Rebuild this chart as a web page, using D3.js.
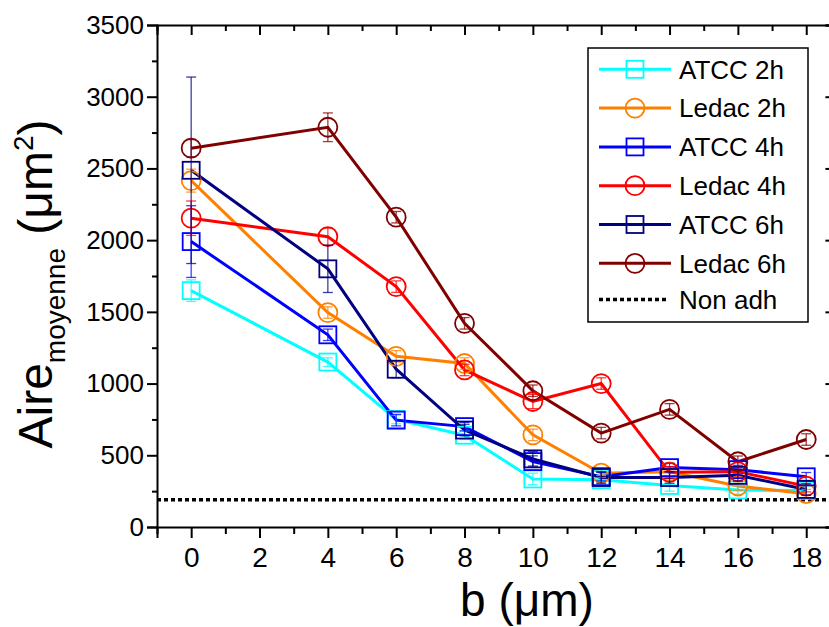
<!DOCTYPE html>
<html><head><meta charset="utf-8">
<script src="https://cdn.jsdelivr.net/npm/d3@7"></script>
<style>body{margin:0;background:#fff}svg{display:block}text{font-family:"Liberation Sans",Arial,sans-serif}</style>
</head><body><svg id="c" width="829" height="627"></svg>
<script>
const bValues = [0, 4, 6, 8, 10, 12, 14, 16, 18];
const seriesNames = ["ATCC 2h", "Ledac 2h", "ATCC 4h", "Ledac 4h", "ATCC 6h", "Ledac 6h"];
const seriesColors = ["#00FFFF", "#FF8000", "#0000FF", "#FF0000", "#000080", "#800000"];
const seriesShapes = ["square", "circle", "square", "circle", "square", "circle"];
const atcc2h  = [1648, 1150, 750, 640, 335, 330, 290, 258, 255];
const ledac2h = [2415, 1495, 1190, 1140, 642, 375, 385, 286, 232];
const atcc4h  = [1990, 1340, 745, 700, 456, 351, 414, 400, 350];
const ledac4h = [2153, 2024, 1676, 1095, 875, 1000, 381, 386, 285];
const atcc6h  = [2487, 1800, 1100, 676, 475, 345, 345, 360, 262];
const ledac6h = [2641, 2787, 2160, 1420, 950, 655, 820, 455, 610];
const errAtcc2h  = [75, 30, 30, 30, 40, 30, 40, 30, 30];
const errLedac2h = [80, 40, 40, 40, 40, 30, 30, 30, 30];
const errAtcc4h  = [250, 40, 40, 30, 40, 30, 30, 30, 30];
const errLedac4h = [120, 60, 40, 40, 50, 40, 40, 40, 40];
const errAtcc6h  = [650, 165, 60, 40, 50, 40, 40, 40, 40];
const errLedac6h = [60, 100, 40, 40, 40, 40, 40, 40, 40];
const nonAdh = 190;
const xTicks = [0, 2, 4, 6, 8, 10, 12, 14, 16, 18];
const yTicks = [0, 500, 1000, 1500, 2000, 2500, 3000, 3500];

const values = [atcc2h, ledac2h, atcc4h, ledac4h, atcc6h, ledac6h];
const errors = [errAtcc2h, errLedac2h, errAtcc4h, errLedac4h, errAtcc6h, errLedac6h];

const svg = d3.select("#c");
const L = 157, R = 840.4, T = 25, B = 527;
const x = d3.scaleLinear().domain([-1, 19]).range([L, R]);
const y = d3.scaleLinear().domain([0, 3500]).range([B, T]);

function styleAxis(g){ g.select(".domain").attr("stroke","#000").attr("stroke-width",2); g.selectAll(".tick line").attr("stroke","#000").attr("stroke-width",2); }
const minorX = d3.range(-1, 20, 1).filter(v => v % 2 !== 0);
const minorY = d3.range(250, 3500, 500);

const gB = svg.append("g").attr("transform",`translate(0,${B})`)
  .call(d3.axisBottom(x).tickValues(xTicks).tickSize(11).tickPadding(4).tickFormat(d3.format("d")));
styleAxis(gB);
gB.selectAll("text").attr("font-size",28).attr("fill","#000").attr("dy","0.88em");
svg.append("g").attr("transform",`translate(0,${B})`)
  .call(d3.axisBottom(x).tickValues(minorX).tickSize(7).tickFormat(""))
  .call(g=>{g.select(".domain").remove(); g.selectAll("line").attr("stroke","#000").attr("stroke-width",2);});

const gT = svg.append("g").attr("transform",`translate(0,${T})`)
  .call(d3.axisBottom(x).tickValues(xTicks).tickSize(10).tickFormat(""));
styleAxis(gT);
svg.append("g").attr("transform",`translate(0,${T})`)
  .call(d3.axisBottom(x).tickValues(minorX).tickSize(6).tickFormat(""))
  .call(g=>{g.select(".domain").remove(); g.selectAll("line").attr("stroke","#000").attr("stroke-width",2);});

const gL = svg.append("g").attr("transform",`translate(${L},0)`)
  .call(d3.axisLeft(y).tickValues(yTicks).tickSize(10).tickPadding(3).tickFormat(d3.format("d")));
styleAxis(gL);
gL.selectAll("text").attr("font-size",26).attr("fill","#000");
svg.append("g").attr("transform",`translate(${L},0)`)
  .call(d3.axisLeft(y).tickValues(minorY).tickSize(5).tickFormat(""))
  .call(g=>{g.select(".domain").remove(); g.selectAll("line").attr("stroke","#000").attr("stroke-width",2);});

const gR = svg.append("g").attr("transform",`translate(${R},0)`)
  .call(d3.axisLeft(y).tickValues(yTicks).tickSize(15).tickFormat(""));
styleAxis(gR);

svg.append("line").attr("x1",L).attr("x2",829).attr("y1",y(nonAdh)).attr("y2",y(nonAdh))
  .attr("stroke","#000").attr("stroke-width",3.5).attr("stroke-dasharray","4,3");

const line = d3.line().x((d,i)=>x(bValues[i])).y(d=>y(d));
const plot = svg.append("g");
values.forEach((vals, s) => {
  plot.append("path").datum(vals).attr("d", line).attr("fill","none").attr("stroke",seriesColors[s]).attr("stroke-width",3);
});
values.forEach((vals, s) => {
  const c = seriesColors[s];
  const g = plot.append("g");
  vals.forEach((v,i) => {
    const cx = x(bValues[i]), e = errors[s][i];
    g.append("line").attr("x1",cx).attr("x2",cx).attr("y1",y(v-e)).attr("y2",y(v+e)).attr("stroke",c).attr("stroke-width",1.3).attr("opacity",0.75);
    [v-e, v+e].forEach(w => g.append("line").attr("x1",cx-5).attr("x2",cx+5).attr("y1",y(w)).attr("y2",y(w)).attr("stroke",c).attr("stroke-width",1.3).attr("opacity",0.75));
    drawMarker(g, seriesShapes[s], cx, y(v), c);
  });
});

function drawMarker(g, shape, cx, cy, c){
  if (shape === "square") g.append("rect").attr("x",cx-8.5).attr("y",cy-8.5).attr("width",17).attr("height",17).attr("fill","none").attr("stroke",c).attr("stroke-width",1.8);
  else g.append("circle").attr("cx",cx).attr("cy",cy).attr("r",9.5).attr("fill","none").attr("stroke",c).attr("stroke-width",1.8);
}

const lg = svg.append("g");
lg.append("rect").attr("x",588).attr("y",48).attr("width",220).attr("height",274).attr("fill","#fff").attr("stroke","#000").attr("stroke-width",1.5);
const rowY = i => 69.3 + i*38.8;
seriesNames.forEach((n,i) => {
  lg.append("line").attr("x1",599).attr("x2",671).attr("y1",rowY(i)).attr("y2",rowY(i)).attr("stroke",seriesColors[i]).attr("stroke-width",3);
  drawMarker(lg, seriesShapes[i], 635, rowY(i), seriesColors[i]);
  lg.append("text").attr("x",679).attr("y",rowY(i)).attr("dy","0.36em").attr("font-size",26).text(n);
});
lg.append("line").attr("x1",599).attr("x2",668).attr("y1",299.5).attr("y2",299.5).attr("stroke","#000").attr("stroke-width",3.5).attr("stroke-dasharray","4,3");
lg.append("text").attr("x",679).attr("y",299.5).attr("dy","0.36em").attr("font-size",26).text("Non adh");

svg.append("text").attr("x",527).attr("y",616).attr("text-anchor","middle").attr("font-size",46).text("b (μm)");
const yt = svg.append("text").attr("transform","translate(52,284) rotate(-90)").attr("text-anchor","middle").attr("font-size",48);
yt.append("tspan").text("Aire");
yt.append("tspan").attr("font-size",28).attr("dy",13).text("moyenne");
yt.append("tspan").attr("dy",-13).text(" (μm");
yt.append("tspan").attr("font-size",28).attr("dy",-19).text("2");
yt.append("tspan").attr("dy",19).text(")");
</script></body></html>
